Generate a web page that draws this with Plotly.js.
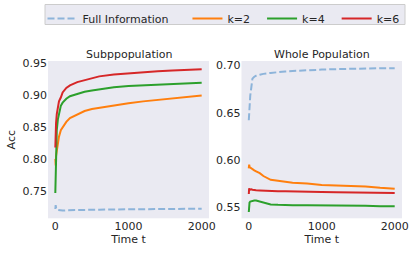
<!DOCTYPE html>
<html><head><meta charset="utf-8">
<script src="https://cdn.plot.ly/plotly-3.0.1.min.js"></script>
<style>html,body{margin:0;padding:0;background:#fff}#c{width:415px;height:253px}</style>
</head><body><div id="c"></div>
<script>
const t = [0, 5, 10, 20, 35, 50, 75, 100, 150, 200, 300, 400, 500, 600, 800, 1000, 1200, 1400, 1600, 1800, 2000];

// Subpopulation
const subFull = [0.722, 0.728, 0.724, 0.721, 0.7205, 0.720, 0.7195, 0.7195, 0.720, 0.720, 0.7205, 0.7207, 0.721, 0.721, 0.7213, 0.7215, 0.7218, 0.722, 0.7222, 0.7224, 0.7225];
const subK2 = [0.800, 0.790, 0.805, 0.812, 0.820, 0.835, 0.845, 0.850, 0.858, 0.864, 0.870, 0.875, 0.878, 0.880, 0.884, 0.887, 0.890, 0.892, 0.894, 0.896, 0.899];
const subK4 = [0.747, 0.790, 0.820, 0.845, 0.862, 0.872, 0.883, 0.888, 0.894, 0.898, 0.902, 0.905, 0.907, 0.909, 0.912, 0.914, 0.915, 0.916, 0.917, 0.918, 0.919];
const subK6 = [0.818, 0.845, 0.856, 0.870, 0.885, 0.890, 0.896, 0.904, 0.911, 0.915, 0.920, 0.923, 0.926, 0.929, 0.932, 0.934, 0.9355, 0.937, 0.938, 0.939, 0.940];

// Whole population
const wholeFull = [0.642, 0.655, 0.665, 0.668, 0.677, 0.686, 0.688, 0.689, 0.690, 0.691, 0.692, 0.693, 0.6935, 0.694, 0.695, 0.6955, 0.696, 0.6965, 0.6965, 0.697, 0.697];
const wholeK2 = [0.591, 0.595, 0.593, 0.592, 0.591, 0.590, 0.589, 0.588, 0.586, 0.583, 0.579, 0.578, 0.577, 0.576, 0.575, 0.5735, 0.573, 0.5725, 0.572, 0.5705, 0.5695];
const wholeK4 = [0.545, 0.554, 0.555, 0.556, 0.5565, 0.557, 0.557, 0.557, 0.556, 0.5545, 0.553, 0.5525, 0.552, 0.552, 0.552, 0.552, 0.552, 0.5518, 0.5515, 0.551, 0.551];
const wholeK6 = [0.564, 0.570, 0.569, 0.5685, 0.569, 0.5685, 0.568, 0.568, 0.5678, 0.5675, 0.567, 0.567, 0.5668, 0.5665, 0.5662, 0.566, 0.5658, 0.5655, 0.5652, 0.565, 0.565];

const names = ['Full Information', 'k=2', 'k=4', 'k=6'];
const colors = ['#8db4da', '#ff7f0e', '#2ca02c', '#d62728'];
const subSeries = [subFull, subK2, subK4, subK6];
const wholeSeries = [wholeFull, wholeK2, wholeK4, wholeK6];
// trailing non-breaking spaces widen legend entries to match spacing
const pads = [4, 2, 2, 0];

const W = 415, H = 253;
const px = v => v / W, py = v => 1 - v / H;

const traces = [];
subSeries.forEach((y, i) => traces.push({
  x: t, y: y, type: 'scatter', mode: 'lines', name: names[i] + '\u00a0'.repeat(pads[i]), legendgroup: names[i],
  line: {color: colors[i], width: 2, dash: i === 0 ? '7px,3px' : 'solid'},
  xaxis: 'x', yaxis: 'y', showlegend: true
}));
wholeSeries.forEach((y, i) => traces.push({
  x: t, y: y, type: 'scatter', mode: 'lines', name: names[i], legendgroup: names[i],
  line: {color: colors[i], width: 2, dash: i === 0 ? '7px,3px' : 'solid'},
  xaxis: 'x2', yaxis: 'y2', showlegend: false
}));

const font = {family: 'DejaVu Sans', size: 11, color: '#262626'};
const axBase = {showgrid: false, zeroline: false, showline: false, ticks: '', tickfont: font};
const layout = {
  width: W, height: H,
  margin: {l: 0, r: 0, t: 0, b: 0},
  paper_bgcolor: '#ffffff', plot_bgcolor: '#eaeaf2',
  font: font,
  showlegend: true,
  legend: {orientation: 'h', x: px(42.5), y: py(4), xanchor: 'left', yanchor: 'top',
    bgcolor: 'rgba(0,0,0,0)', borderwidth: 0, font: font},
  shapes: [{type: 'rect', xref: 'paper', yref: 'paper', x0: px(45), x1: px(405), y0: py(24.5), y1: py(4.5),
    fillcolor: '#eaeaf2', line: {color: '#cccccc', width: 1}, layer: 'below'}],
  xaxis: Object.assign({}, axBase, {domain: [px(48), px(209)], range: [-100, 2100], tickvals: [0, 1000, 2000],
    title: {text: 'Time t', font: font, standoff: 2}, anchor: 'y'}),
  yaxis: Object.assign({}, axBase, {domain: [py(218.3), py(61)], range: [0.7075, 0.953], tickvals: [0.75, 0.80, 0.85, 0.90, 0.95], tickformat: '.2f',
    title: {text: 'Acc', font: font, standoff: 4}, anchor: 'x'}),
  xaxis2: Object.assign({}, axBase, {domain: [px(241.5), px(402)], range: [-100, 2100], tickvals: [0, 1000, 2000],
    title: {text: 'Time t', font: font, standoff: 2}, anchor: 'y2'}),
  yaxis2: Object.assign({}, axBase, {domain: [py(218.3), py(61)], range: [0.5383, 0.7046], tickvals: [0.55, 0.60, 0.65, 0.70], tickformat: '.2f', anchor: 'x2'}),
  annotations: [
    {text: 'Subppopulation', xref: 'paper', yref: 'paper', x: px(128.5), y: py(54.5), xanchor: 'center', yanchor: 'middle', showarrow: false, font: font},
    {text: 'Whole Population', xref: 'paper', yref: 'paper', x: px(321.7), y: py(54.5), xanchor: 'center', yanchor: 'middle', showarrow: false, font: font}
  ]
};
Plotly.newPlot('c', traces, layout, {displayModeBar: false, staticPlot: true});
</script></body></html>
